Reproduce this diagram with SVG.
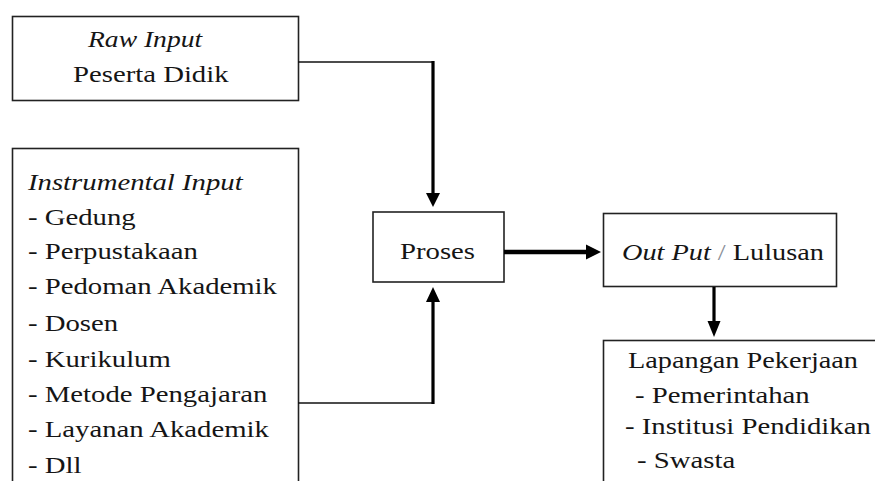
<svg xmlns="http://www.w3.org/2000/svg" width="875" height="481" viewBox="0 0 875 481">
<style>
.box{fill:#fff;stroke:#222;stroke-width:1.6}
.i{font-style:italic}
.thin{fill:none;stroke:#111;stroke-width:1.5}
.thick{fill:none;stroke:#000;stroke-width:3.2}
.bold{fill:none;stroke:#000;stroke-width:4.5}
.ah{fill:#000}
</style>
<rect width="875" height="481" fill="#fff"/>
<g font-family="Liberation Serif" font-size="23" fill="#151515">
<g id="raw-input">
<rect class="box" x="12.5" y="16.5" width="286" height="84"/>
<text class="i" transform="translate(88,47) scale(1.2,1)">Raw Input</text>
<text transform="translate(73,82) scale(1.25,1)">Peserta Didik</text>
</g>
<g id="instrumental-input">
<rect class="box" x="12.5" y="148.5" width="286" height="360"/>
<text class="i" transform="translate(28,190) scale(1.25,1)">Instrumental Input</text>
<text transform="translate(28,225) scale(1.25,1)">- Gedung</text>
<text transform="translate(28,259) scale(1.25,1)">- Perpustakaan</text>
<text transform="translate(28,294) scale(1.25,1)">- Pedoman Akademik</text>
<text transform="translate(28,331) scale(1.25,1)">- Dosen</text>
<text transform="translate(28,367) scale(1.25,1)">- Kurikulum</text>
<text transform="translate(28,402) scale(1.25,1)">- Metode Pengajaran</text>
<text transform="translate(28,437) scale(1.25,1)">- Layanan Akademik</text>
<text transform="translate(28,473) scale(1.25,1)">- Dll</text>
</g>
<g id="proses">
<rect class="box" x="373" y="212" width="131" height="70"/>
<text transform="translate(400,259) scale(1.25,1)">Proses</text>
</g>
<g id="output">
<rect class="box" x="603.5" y="213.5" width="233" height="73"/>
<text transform="translate(622,260) scale(1.23,1)"><tspan class="i">Out Put </tspan><tspan fill="#8a8f99">/</tspan><tspan> Lulusan</tspan></text>
</g>
<g id="lapangan-pekerjaan">
<rect class="box" x="603.5" y="340.5" width="300" height="200"/>
<text transform="translate(628,368) scale(1.23,1)">Lapangan Pekerjaan</text>
<text transform="translate(635,403) scale(1.25,1)">- Pemerintahan</text>
<text transform="translate(625,434) scale(1.25,1)">- Institusi Pendidikan</text>
<text transform="translate(637,468) scale(1.25,1)">- Swasta</text>
</g>
</g>
<g id="connectors">
<polyline class="thin" points="298,62 433,62"/>
<line class="thick" x1="433" y1="61" x2="433" y2="195"/>
<polygon class="ah" points="426,193 440,193 433,207"/>
<polyline class="thin" points="298,403 433,403"/>
<line class="thick" x1="433" y1="404" x2="433" y2="300"/>
<polygon class="ah" points="426,302 440,302 433,287"/>
<line class="bold" x1="504" y1="252" x2="588" y2="252"/>
<polygon class="ah" points="586,244.5 586,259.5 601,252"/>
<line class="thick" x1="714" y1="287" x2="714" y2="323"/>
<polygon class="ah" points="707.5,321 720.5,321 714,337"/>
</g>
</svg>
